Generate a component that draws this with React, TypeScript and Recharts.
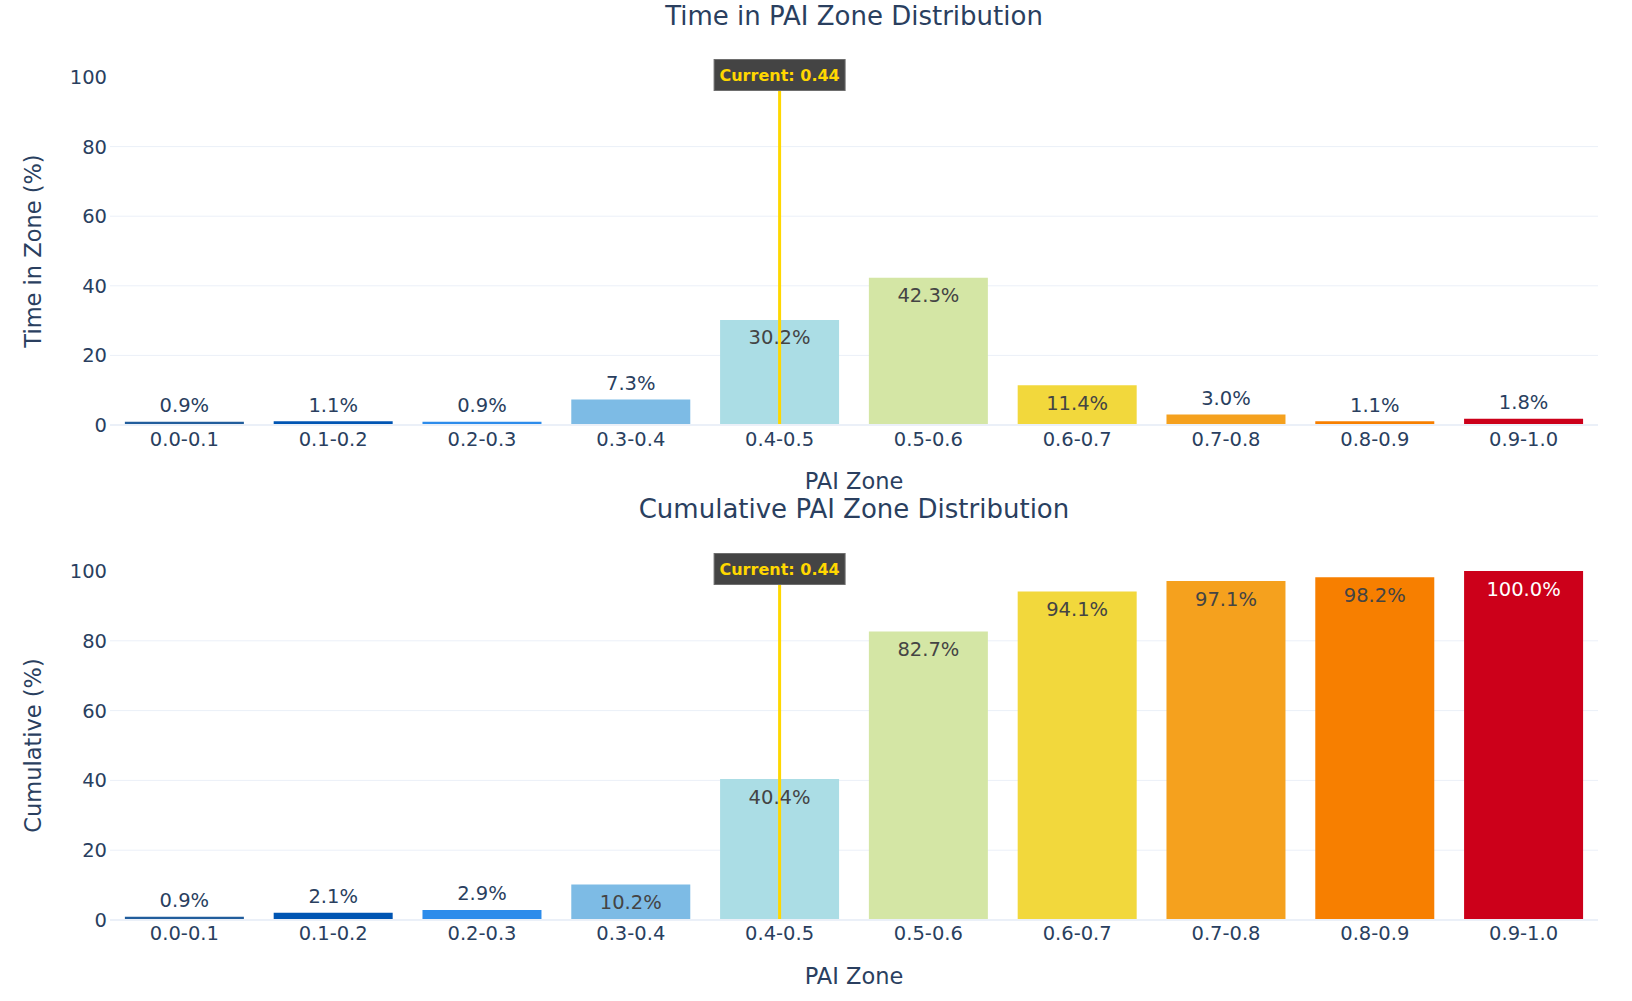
import React from 'react'
import { BarChart, Bar, XAxis, YAxis, CartesianGrid, ReferenceLine, LabelList, Cell } from 'recharts'

const zones = ['0.0-0.1', '0.1-0.2', '0.2-0.3', '0.3-0.4', '0.4-0.5', '0.5-0.6', '0.6-0.7', '0.7-0.8', '0.8-0.9', '0.9-1.0']
const timeInZone = [0.9, 1.1, 0.9, 7.3, 30.2, 42.3, 11.4, 3.0, 1.1, 1.8]
const cumulative = [0.9, 2.1, 2.9, 10.2, 40.4, 82.7, 94.1, 97.1, 98.2, 100.0]
const zoneColors = ['#215d9c', '#0055b3', '#2d8ceb', '#7dbbe5', '#abdde5', '#d4e6a5', '#f2d83c', '#f5a11e', '#f77f00', '#cc001a']
const yTicks = [0, 20, 40, 60, 80, 100]
const gridValues = [0, 20, 40, 60, 80]
const currentZone = '0.4-0.5'
const currentValue = 0.44

const FONT = '"DejaVu Sans", Verdana, sans-serif'
const TEXT = '#2a3f5f'
const GRID = '#ebf0f8'
const TICK_SIZE = 19.5

const isDark = (hex: string) => {
  const r = parseInt(hex.slice(1, 3), 16)
  const g = parseInt(hex.slice(3, 5), 16)
  const b = parseInt(hex.slice(5, 7), 16)
  return (r * 299 + g * 587 + b * 114) / 1000 < 128
}

const barLabel = (props: any) => {
  const { x, y, width, height, value, index } = props
  const cx = x + width / 2
  const txt = `${Number(value).toFixed(1)}%`
  if (height >= 30) {
    return (
      <text x={cx} y={y + Math.min(18, height / 2)} textAnchor="middle" dominantBaseline="central"
        fontSize={TICK_SIZE} fontFamily={FONT} fill={isDark(zoneColors[index]) ? '#ffffff' : '#444444'}>
        {txt}
      </text>
    )
  }
  return (
    <text x={cx} y={y - 16} textAnchor="middle" dominantBaseline="central" fontSize={TICK_SIZE} fontFamily={FONT} fill={TEXT}>
      {txt}
    </text>
  )
}

const currentLabel = (props: any) => {
  const { viewBox } = props
  const cx = viewBox.x
  const cy = viewBox.y - 2
  return (
    <g>
      <rect x={cx - 65.5} y={cy - 15.5} width={131} height={31} fill="#444444" stroke="#6e6e6e" strokeWidth={1} />
      <text x={cx} y={cy} textAnchor="middle" dominantBaseline="central" fontSize={16} fontWeight="bold" fontFamily={FONT} fill="#ffd700">
        {`Current: ${currentValue.toFixed(2)}`}
      </text>
    </g>
  )
}

const xTitle = (props: any) => {
  const { viewBox } = props
  return (
    <text x={viewBox.x + viewBox.width / 2} y={viewBox.y + 56} textAnchor="middle" dominantBaseline="central"
      fontSize={22.5} fontFamily={FONT} fill={TEXT}>
      PAI Zone
    </text>
  )
}

const yTitle = (label: string) => (props: any) => {
  const { viewBox } = props
  const x = 33
  const y = viewBox.y + viewBox.height / 2
  return (
    <text x={x} y={y} transform={`rotate(-90 ${x} ${y})`} textAnchor="middle" dominantBaseline="central"
      fontSize={22.5} fontFamily={FONT} fill={TEXT}>
      {label}
    </text>
  )
}

interface PanelProps {
  title: string
  yLabel: string
  values: number[]
  offset: number
  height: number
  top: number
  bottom: number
  tickGap: number
}

function ZonePanel({ title, yLabel, values, offset, height, top, bottom, tickGap }: PanelProps) {
  const data = zones.map((zone, i) => ({ zone, value: values[i] }))
  return (
    <div style={{ position: 'absolute', left: 0, top: offset, width: 1632, height }}>
      <div style={{ position: 'absolute', left: 110, width: 1488, top: 1, textAlign: 'center', fontSize: 26, lineHeight: '30px', color: TEXT, fontFamily: FONT }}>
        {title}
      </div>
      <BarChart width={1632} height={height} data={data} margin={{ top, right: 34, left: 0, bottom }} barCategoryGap="10%">
        <CartesianGrid vertical={false} stroke={GRID} strokeWidth={1} horizontalValues={gridValues} />
        <XAxis dataKey="zone" height={80} tickSize={0} tickMargin={tickGap} axisLine={{ stroke: GRID, strokeWidth: 2 }}
          tick={{ fontSize: TICK_SIZE, fill: TEXT, fontFamily: FONT }} interval={0} label={xTitle} />
        <YAxis width={110} domain={[0, 100]} ticks={yTicks} tickSize={0} tickMargin={3} axisLine={false}
          tick={{ fontSize: TICK_SIZE, fill: TEXT, fontFamily: FONT }} label={yTitle(yLabel)} />
        <Bar dataKey="value" isAnimationActive={false}>
          {data.map((_, i) => (
            <Cell key={`c-${i}`} fill={zoneColors[i]} />
          ))}
          <LabelList dataKey="value" content={barLabel} />
        </Bar>
        <ReferenceLine x={currentZone} stroke="#ffd700" strokeWidth={3} label={currentLabel} />
      </BarChart>
    </div>
  )
}

export default function App() {
  return (
    <div style={{ position: 'absolute', left: 0, top: 0, width: 1632, height: 1001, background: '#ffffff', fontFamily: FONT }}>
      <ZonePanel title="Time in PAI Zone Distribution" yLabel="Time in Zone (%)" values={timeInZone}
        offset={0} height={510} top={77} bottom={5} tickGap={7} />
      <ZonePanel title="Cumulative PAI Zone Distribution" yLabel="Cumulative (%)" values={cumulative}
        offset={493} height={508} top={78} bottom={1} tickGap={6} />
    </div>
  )
}
